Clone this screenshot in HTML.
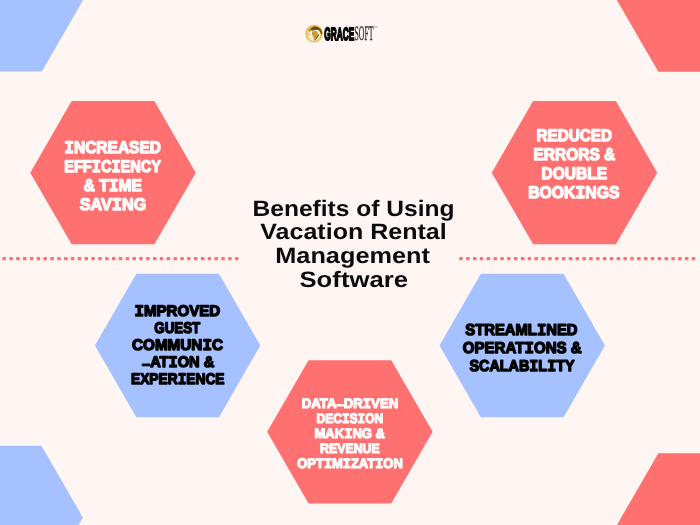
<!DOCTYPE html>
<html lang="en"><head><meta charset="utf-8"><title>Benefits of Using Vacation Rental Management Software</title>
<style>
html,body{margin:0;padding:0;background:#FFF6F4;}
body{width:700px;height:525px;overflow:hidden;position:relative;font-family:"Liberation Sans",sans-serif;}
svg{position:absolute;left:0;top:0;display:block}
text{font-family:"Liberation Sans",sans-serif;font-weight:bold;text-rendering:geometricPrecision;}
.hx{stroke-linejoin:round;paint-order:stroke;}
.mi{font-family:"Liberation Mono",monospace;font-weight:bold;}
.grace{stroke-linejoin:miter;paint-order:stroke;}
text.soft{font-family:"Liberation Serif",serif;font-weight:normal;}
</style></head><body>
<svg width="700" height="525" viewBox="0 0 700 525">
<rect width="700" height="525" fill="#FFF6F4"/>
<polygon points="-82.25,-0.25 -40.88,-71.91 41.88,-71.91 83.25,-0.25 41.88,71.41 -40.88,71.41" fill="#A6C1FF"/>
<polygon points="616.95,0.20 658.33,-71.46 741.08,-71.46 782.45,0.20 741.08,71.86 658.33,71.86" fill="#FF7171"/>
<polygon points="-82.60,517.40 -41.23,445.74 41.52,445.74 82.90,517.40 41.52,589.06 -41.23,589.06" fill="#A6C1FF"/>
<polygon points="616.95,524.90 658.33,453.24 741.08,453.24 782.45,524.90 741.08,596.56 658.33,596.56" fill="#FF7171"/>
<polygon points="30.25,172.65 71.62,100.99 154.38,100.99 195.75,172.65 154.38,244.31 71.62,244.31" fill="#FF7171"/>
<polygon points="491.75,172.65 533.12,100.99 615.88,100.99 657.25,172.65 615.88,244.31 533.12,244.31" fill="#FF7171"/>
<polygon points="94.90,345.50 136.28,273.84 219.03,273.84 260.40,345.50 219.03,417.16 136.28,417.16" fill="#A6C1FF"/>
<polygon points="439.45,345.50 480.83,273.84 563.58,273.84 604.95,345.50 563.58,417.16 480.83,417.16" fill="#A6C1FF"/>
<polygon points="267.15,431.80 308.52,360.14 391.27,360.14 432.65,431.80 391.27,503.46 308.52,503.46" fill="#FF7171"/>
<line x1="2.5" y1="258.6" x2="238.7" y2="258.6" stroke="#FF7171" stroke-width="3.4" stroke-dasharray="3.42 3.42"/>
<line x1="459.3" y1="258.6" x2="695.5" y2="258.6" stroke="#FF7171" stroke-width="3.4" stroke-dasharray="3.42 3.42"/>
<defs>
<filter id="lb" x="-20%" y="-20%" width="140%" height="140%"><feGaussianBlur stdDeviation="0.42"/></filter>
<linearGradient id="sw" x1="0" y1="0" x2="1" y2="0"><stop offset="0" stop-color="#A98228"/><stop offset="0.5" stop-color="#5A4112"/><stop offset="1" stop-color="#7A5A1C"/></linearGradient>
</defs>
<g filter="url(#lb)">
<ellipse cx="314" cy="33.6" rx="8.7" ry="8.9" fill="#EEC044"/>
<circle cx="314.0" cy="34.6" r="6.4" fill="#F6EEE2"/>
<path d="M308.6 31.2 C309.8 27.8 312.6 26.3 315.4 26.5 C319.4 26.8 322.3 29.8 322.4 34.0 L321.0 34.5 C320.5 31.6 318.8 29.6 315.8 29.1 C313.2 28.7 310.9 29.5 309.8 31.7 Z" fill="url(#sw)"/>
<path d="M311.0 29.6 C312.6 28.4 315.8 28.2 318.2 29.4 C316 29.6 313.4 29.9 311.8 30.9 Z" fill="#6B4E16"/>
<path d="M312.4 31.2 C313.8 30.3 316.4 30.5 317.4 32.0 C318.4 33.5 317.8 35.2 316.9 36.4 C316 37.7 315.4 39.6 314.2 41.2 C313.5 39.8 314 38 313.2 36.8 C312.2 35.3 311.2 32.8 312.4 31.2 Z" fill="#CC9C34"/>
<path d="M316.8 36.2 C317.5 35 318.6 34.4 319.4 34.6 C318.8 36.2 316.8 38.9 314.6 41 C315.2 39.2 316 37.6 316.8 36.2 Z" fill="#80601E"/>
<path d="M308.3 33.2 C309.3 32.7 310.3 33.4 310.2 34.6 C310.1 35.8 309.2 36.2 308.3 35.7 Z" fill="#E9C562"/>
<path d="M309.6 37.6 C310.5 37.3 311.6 38.1 311.4 39.2 C310.6 39.8 309.7 39 309.6 37.6 Z" fill="#ECCF80"/>
<path d="M318.6 38.4 C319.4 38 320 38.6 319.6 39.4 C318.9 39.9 318.4 39.3 318.6 38.4 Z" fill="#EAD6A0"/>
</g>

<g opacity="0.999">
<text class="hx" x="64.25" y="153.20" font-size="16.9" textLength="96.75" lengthAdjust="spacingAndGlyphs" fill="#FFFBFA" stroke="#FFFBFA" stroke-width="1.40"><tspan class="mi" font-size="17.64">I</tspan>NCREASED</text>
<text class="hx" x="64.25" y="172.25" font-size="16.9" textLength="96.75" lengthAdjust="spacingAndGlyphs" fill="#FFFBFA" stroke="#FFFBFA" stroke-width="1.40">EFF<tspan class="mi" font-size="17.64">I</tspan>C<tspan class="mi" font-size="17.64">I</tspan>ENCY</text>
<text class="hx" x="83.50" y="191.30" font-size="16.9" textLength="58.50" lengthAdjust="spacingAndGlyphs" fill="#FFFBFA" stroke="#FFFBFA" stroke-width="1.40">&amp; T<tspan class="mi" font-size="17.64">I</tspan>ME</text>
<text class="hx" x="79.75" y="210.30" font-size="16.9" textLength="66.50" lengthAdjust="spacingAndGlyphs" fill="#FFFBFA" stroke="#FFFBFA" stroke-width="1.40">SAV<tspan class="mi" font-size="17.64">I</tspan>NG</text>
<text class="hx" x="536.50" y="140.80" font-size="16.9" textLength="75.50" lengthAdjust="spacingAndGlyphs" fill="#FFFBFA" stroke="#FFFBFA" stroke-width="1.40">REDUCED</text>
<text class="hx" x="533.50" y="159.90" font-size="16.9" textLength="81.75" lengthAdjust="spacingAndGlyphs" fill="#FFFBFA" stroke="#FFFBFA" stroke-width="1.40">ERRORS &amp;</text>
<text class="hx" x="541.50" y="179.00" font-size="16.9" textLength="65.50" lengthAdjust="spacingAndGlyphs" fill="#FFFBFA" stroke="#FFFBFA" stroke-width="1.40">DOUBLE</text>
<text class="hx" x="528.25" y="198.00" font-size="16.9" textLength="91.25" lengthAdjust="spacingAndGlyphs" fill="#FFFBFA" stroke="#FFFBFA" stroke-width="1.40">BOOK<tspan class="mi" font-size="17.64">I</tspan>NGS</text>
<text class="hx" x="134.50" y="316.20" font-size="15.3" textLength="85.75" lengthAdjust="spacingAndGlyphs" fill="#000000" stroke="#000000" stroke-width="1.40"><tspan class="mi" font-size="15.97">I</tspan>MPROVED</text>
<text class="hx" x="154.25" y="333.20" font-size="15.3" textLength="46.01" lengthAdjust="spacingAndGlyphs" fill="#000000" stroke="#000000" stroke-width="1.40">GUEST</text>
<text class="hx" x="132.00" y="350.20" font-size="15.3" textLength="91.00" lengthAdjust="spacingAndGlyphs" fill="#000000" stroke="#000000" stroke-width="1.40">COMMUN<tspan class="mi" font-size="15.97">I</tspan>C</text>
<text class="hx" x="142.00" y="367.30" font-size="15.3" textLength="72.25" lengthAdjust="spacingAndGlyphs" fill="#000000" stroke="#000000" stroke-width="1.40"><tspan dy="1.3">–</tspan><tspan dy="-1.3">A</tspan>T<tspan class="mi" font-size="15.97">I</tspan>ON &amp;</text>
<text class="hx" x="131.00" y="384.30" font-size="15.3" textLength="93.50" lengthAdjust="spacingAndGlyphs" fill="#000000" stroke="#000000" stroke-width="1.40">EXPER<tspan class="mi" font-size="15.97">I</tspan>ENCE</text>
<text class="hx" x="465.25" y="335.30" font-size="15.8" textLength="112.25" lengthAdjust="spacingAndGlyphs" fill="#000000" stroke="#000000" stroke-width="1.40">STREAML<tspan class="mi" font-size="16.50">I</tspan>NED</text>
<text class="hx" x="462.75" y="353.00" font-size="15.8" textLength="119.00" lengthAdjust="spacingAndGlyphs" fill="#000000" stroke="#000000" stroke-width="1.40">OPERAT<tspan class="mi" font-size="16.50">I</tspan>ONS &amp;</text>
<text class="hx" x="469.50" y="370.60" font-size="15.8" textLength="105.00" lengthAdjust="spacingAndGlyphs" fill="#000000" stroke="#000000" stroke-width="1.40">SCALAB<tspan class="mi" font-size="16.50">I</tspan>L<tspan class="mi" font-size="16.50">I</tspan>TY</text>
<text class="hx" x="301.75" y="408.30" font-size="13.7" textLength="96.51" lengthAdjust="spacingAndGlyphs" fill="#FFFBFA" stroke="#FFFBFA" stroke-width="1.20">DATA<tspan dy="0.5">–</tspan><tspan dy="-0.5">D</tspan>R<tspan class="mi" font-size="14.30">I</tspan>VEN</text>
<text class="hx" x="316.50" y="423.10" font-size="13.7" textLength="66.76" lengthAdjust="spacingAndGlyphs" fill="#FFFBFA" stroke="#FFFBFA" stroke-width="1.20">DEC<tspan class="mi" font-size="14.30">I</tspan>S<tspan class="mi" font-size="14.30">I</tspan>ON</text>
<text class="hx" x="314.50" y="438.10" font-size="13.7" textLength="70.50" lengthAdjust="spacingAndGlyphs" fill="#FFFBFA" stroke="#FFFBFA" stroke-width="1.20">MAK<tspan class="mi" font-size="14.30">I</tspan>NG &amp;</text>
<text class="hx" x="320.00" y="453.10" font-size="13.7" textLength="59.75" lengthAdjust="spacingAndGlyphs" fill="#FFFBFA" stroke="#FFFBFA" stroke-width="1.20">REVENUE</text>
<text class="hx" x="297.25" y="468.10" font-size="13.7" textLength="105.50" lengthAdjust="spacingAndGlyphs" fill="#FFFBFA" stroke="#FFFBFA" stroke-width="1.20">OPT<tspan class="mi" font-size="14.30">I</tspan>M<tspan class="mi" font-size="14.30">I</tspan>ZAT<tspan class="mi" font-size="14.30">I</tspan>ON</text>
<text class="grace" x="324.25" y="39.70" font-size="17.6" textLength="30.00" lengthAdjust="spacingAndGlyphs" fill="#050505" stroke="#050505" stroke-width="1.80">GRACE</text>
<text class="soft" x="354.49" y="40.35" font-size="20.6" textLength="19.01" lengthAdjust="spacingAndGlyphs" fill="#2a2a2a" stroke="#2a2a2a" stroke-width="0.30">SOFT</text>
<text class="ttl" x="252.47" y="215.60" font-size="22.3" textLength="202.06" lengthAdjust="spacingAndGlyphs" fill="#0b0b0b">Benefits of Using</text>
<text class="ttl" x="260.25" y="239.20" font-size="22.3" textLength="186.52" lengthAdjust="spacingAndGlyphs" fill="#0b0b0b">Vacation Rental</text>
<text class="ttl" x="275.23" y="263.20" font-size="22.3" textLength="154.78" lengthAdjust="spacingAndGlyphs" fill="#0b0b0b">Management</text>
<text class="ttl" x="299.49" y="287.00" font-size="22.3" textLength="108.53" lengthAdjust="spacingAndGlyphs" fill="#0b0b0b">Software</text>
<text x="374.0" y="28.9" font-size="3.8" fill="#444">™</text>
</g>
</svg></body></html>
